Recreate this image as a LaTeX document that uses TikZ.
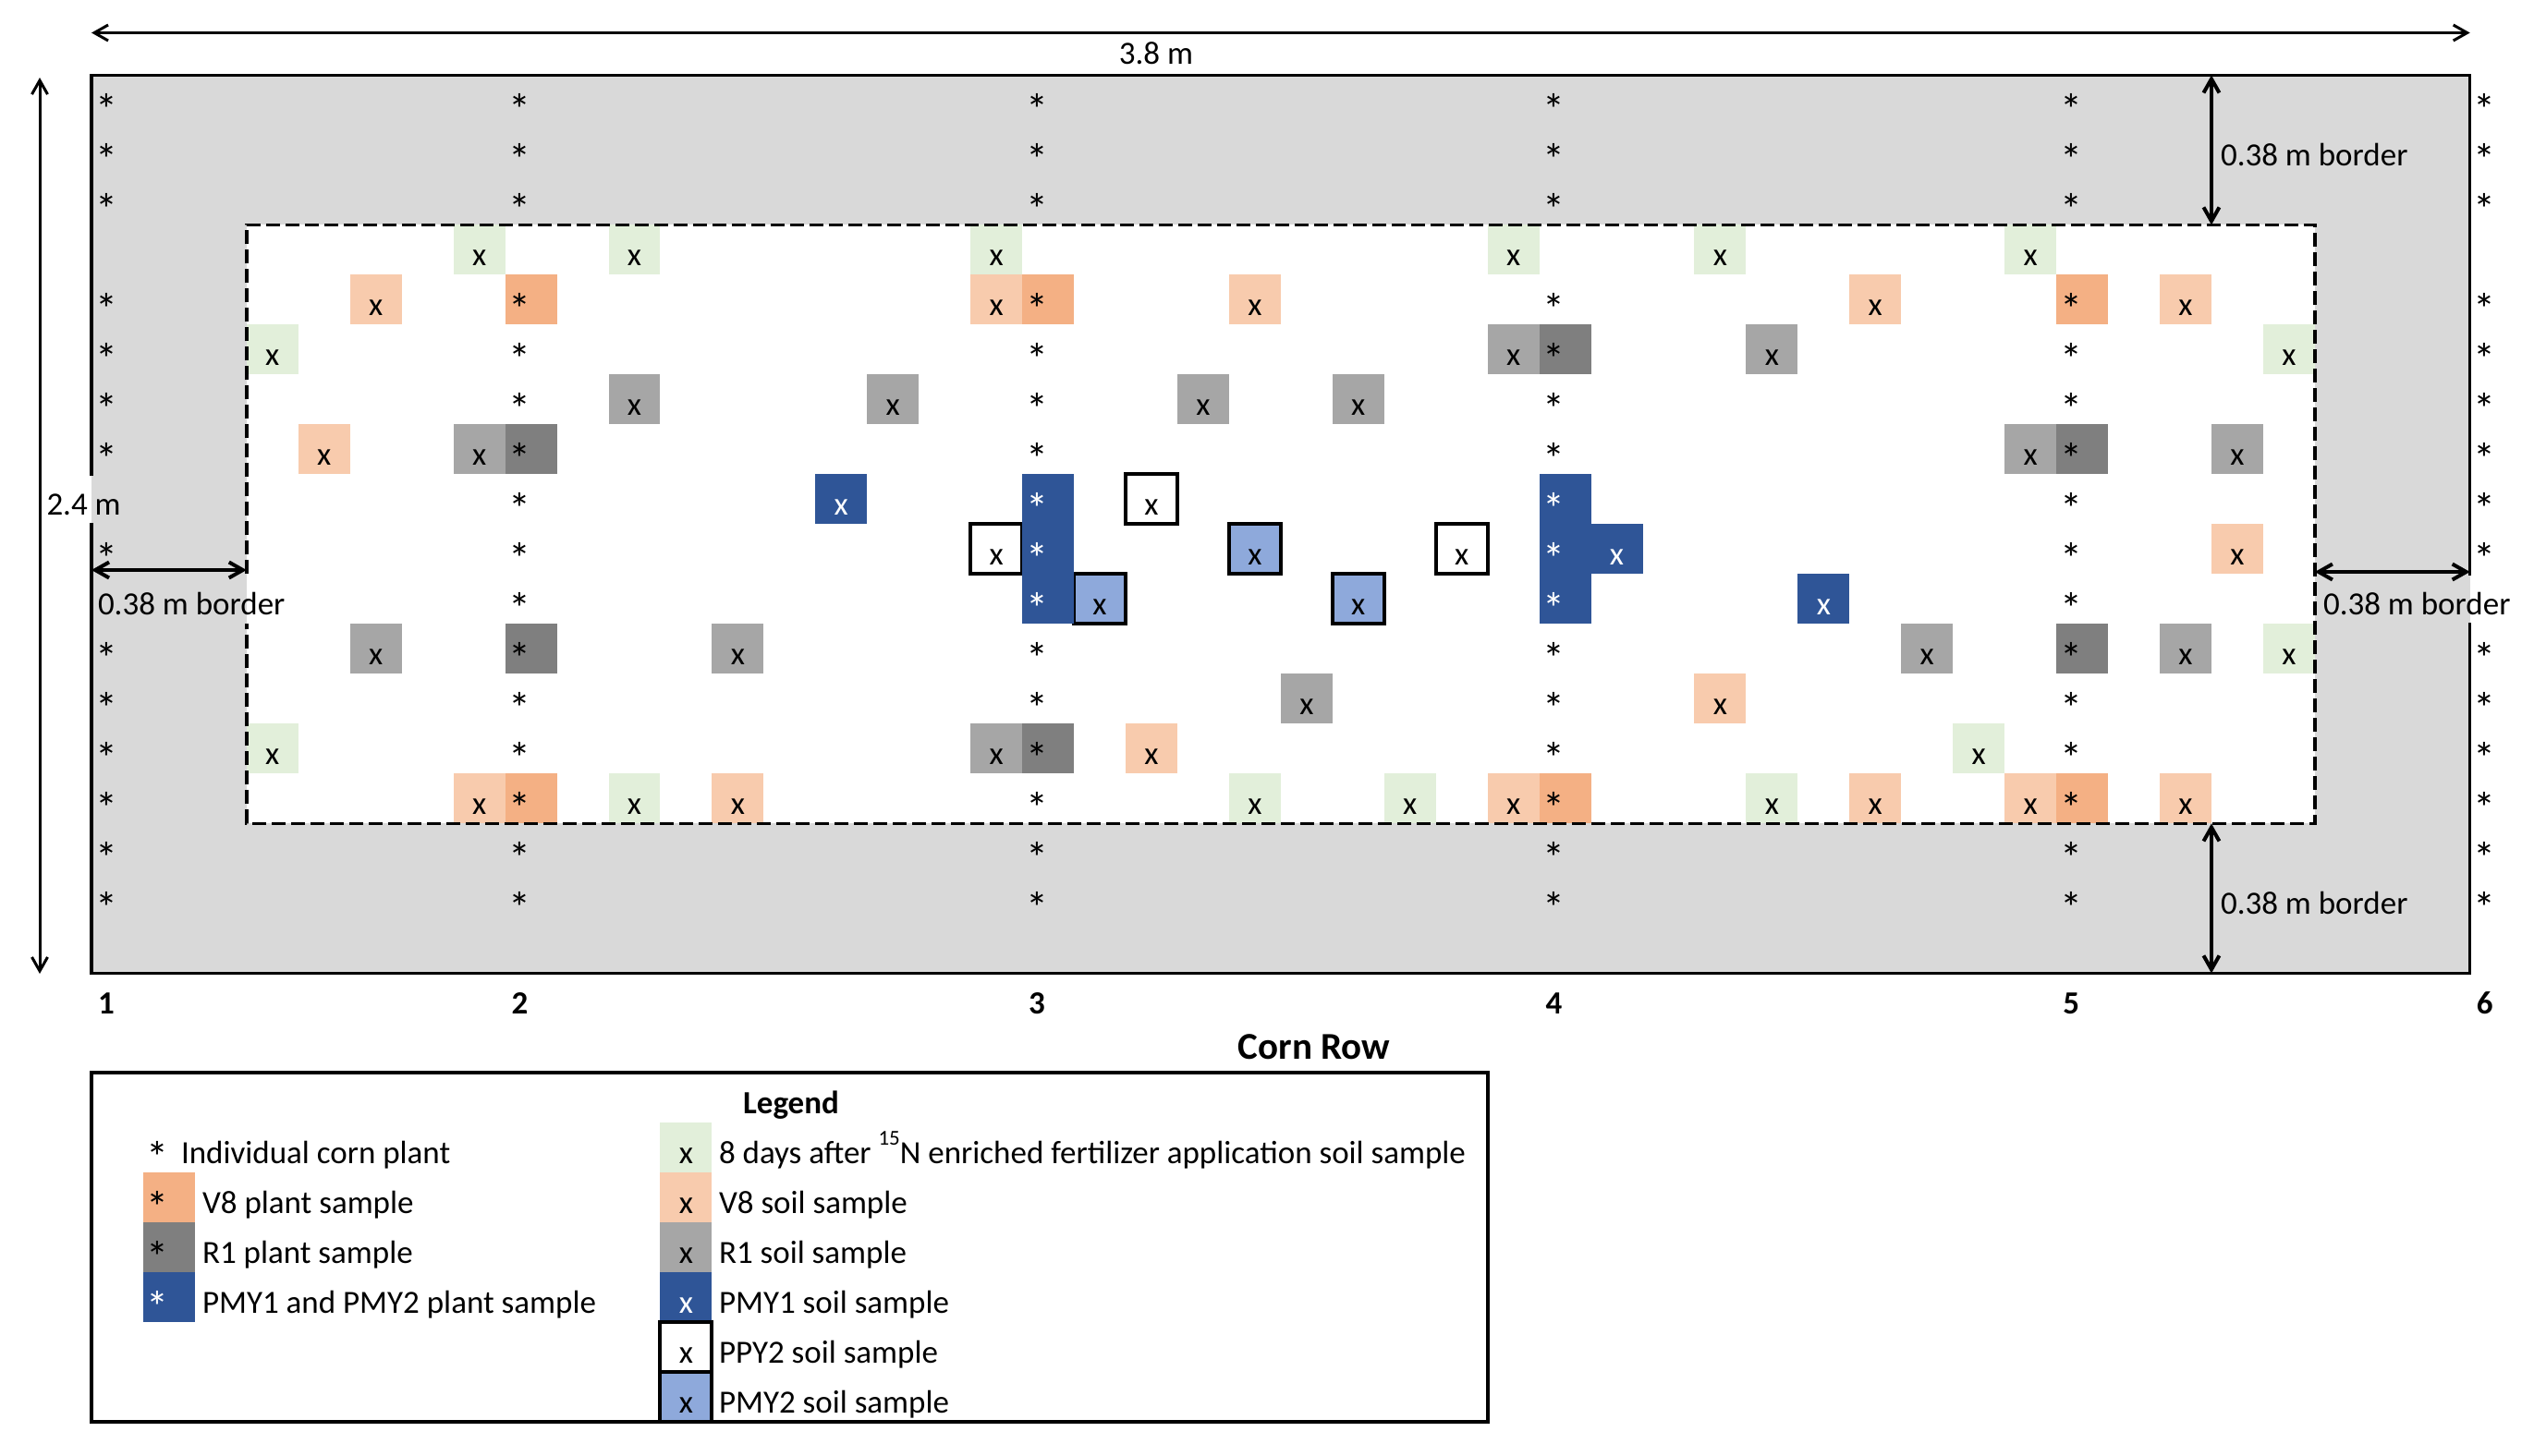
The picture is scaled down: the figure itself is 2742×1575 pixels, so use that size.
\documentclass[tikz,border=0pt]{standalone}
\usepackage{fontspec}
\setmainfont{Carlito}
\usetikzlibrary{arrows.meta}
\definecolor{bordergray}{HTML}{D9D9D9}
\definecolor{cgreen}{HTML}{E2EFDA}
\definecolor{corangel}{HTML}{F8CBAD}
\definecolor{corange}{HTML}{F4B084}
\definecolor{cgrayl}{HTML}{A6A6A6}
\definecolor{cgrayd}{HTML}{7F7F7F}
\definecolor{cblue}{HTML}{2F5597}
\definecolor{cbluel}{HTML}{8EA9DB}
\newcommand\Cx[1]{99+55.95*(#1)}
\newcommand\Ry[1]{81.4+54*(#1)}
\newcommand\fillcell[3]{\fill[#1] ({\Cx{#2}},{\Ry{#3}}) rectangle ({\Cx{#2+1}},{\Ry{#3+1}});}
\newcommand\boxcell[3]{\filldraw[boxline,fill=#1] ({\Cx{#2}},{\Ry{#3}}) rectangle ({\Cx{#2+1}},{\Ry{#3+1}});}
\newcommand\plotx[4]{\node[txt,anchor=base,text=#4] (#1) at ({\Cx{#2+0.5}},{\Ry{#3}+44}) {x};}
\newcommand\plots[4]{\node[startxt,anchor=base,text=#4] (#1) at ({\Cx{#2}+16},{\Ry{#3}+54}) {*};}
\begin{document}
\begin{tikzpicture}[x=1pt,y=-1pt,
  txt/.style={inner sep=0pt,outer sep=0pt,font=\fontsize{35}{42}\selectfont},
  startxt/.style={inner sep=0pt,outer sep=0pt,font=\fontsize{48}{48}\selectfont},
  btxt/.style={inner sep=0pt,outer sep=0pt,font=\fontsize{35}{42}\selectfont\bfseries},
  dimarrow/.style={{Straight Barb[length=15pt,width=17pt]}-{Straight Barb[length=15pt,width=17pt]},line width=3pt},
  thickarrow/.style={dimarrow,line width=4pt},
  dashline/.style={line width=3.5pt,dash pattern=on 15pt off 6pt},
  outline/.style={line width=3.5pt,line cap=rect,line join=miter},
  boxline/.style={line width=4pt,draw=black}
]
\useasboundingbox (0,0) rectangle (2742,1575);
% field background
\fill[bordergray] ({\Cx{0}},{\Ry{0}}) rectangle ({\Cx{46}},{\Ry{18}});
\fill[white] ({\Cx{3}},{\Ry{3}}) rectangle ({\Cx{43}},{\Ry{15}});
% 8 days soil samples
\foreach \c/\r in {7/3,10/3,17/3,27/3,31/3,37/3,3/5,42/5,42/11,3/13,36/13,10/14,22/14,25/14,32/14}
  {\fillcell{cgreen}{\c}{\r}\plotx{xg-\c-\r}{\c}{\r}{black}}
% V8 soil samples
\foreach \c/\r in {5/4,17/4,22/4,34/4,40/4,4/7,41/9,31/12,20/13,7/14,12/14,27/14,34/14,37/14,40/14}
  {\fillcell{corangel}{\c}{\r}\plotx{xo-\c-\r}{\c}{\r}{black}}
% R1 soil samples
\foreach \c/\r in {27/5,32/5,10/6,15/6,21/6,24/6,7/7,37/7,41/7,5/11,12/11,35/11,40/11,23/12,17/13}
  {\fillcell{cgrayl}{\c}{\r}\plotx{xr-\c-\r}{\c}{\r}{black}}
% PMY1 soil samples
\foreach \c/\r in {14/8,29/9,33/10}
  {\fillcell{cblue}{\c}{\r}\plotx{xb-\c-\r}{\c}{\r}{white}}
% PPY2 soil samples
\foreach \c/\r in {20/8,17/9,26/9}
  {\boxcell{white}{\c}{\r}\plotx{xw-\c-\r}{\c}{\r}{black}}
% PMY2 soil samples
\foreach \c/\r in {22/9,19/10,24/10}
  {\boxcell{cbluel}{\c}{\r}\plotx{xl-\c-\r}{\c}{\r}{black}}
% plant sample cells
\foreach \c/\r in {8/4,18/4,38/4,8/14,28/14,38/14} {\fillcell{corange}{\c}{\r}}
\foreach \c/\r in {28/5,8/7,38/7,8/11,38/11,18/13} {\fillcell{cgrayd}{\c}{\r}}
\foreach \c/\r in {18/8,18/9,18/10,28/8,28/9,28/10} {\fillcell{cblue}{\c}{\r}}
% corn plants
\foreach \r in {0,1,2,4,5,6,7,9,11,12,13,14,15,16} {\plots{sa-\r}{0}{\r}{black}}
\foreach \c in {8,38} {\foreach \r in {0,1,2,4,5,6,7,8,9,10,11,12,13,14,15,16} {\plots{s-\c-\r}{\c}{\r}{black}}}
\foreach \c in {18,28} {\foreach \r in {0,1,2,4,5,6,7,11,12,13,14,15,16} {\plots{s-\c-\r}{\c}{\r}{black}}
  \foreach \r in {8,9,10} {\plots{sw-\c-\r}{\c}{\r}{white}}}
\foreach \r in {0,1,2,4,5,6,7,8,9,11,12,13,14,15,16} {\plots{sf-\r}{46}{\r}{black}}
% sampling area (dashed) and field outline
\draw[dashline] ({\Cx{3}},{\Ry{10}}) -- ({\Cx{3}},{\Ry{3}}) -- ({\Cx{43}},{\Ry{3}}) -- ({\Cx{43}},{\Ry{15}}) -- ({\Cx{3}},{\Ry{15}}) -- ({\Cx{3}},{\Ry{11}});
\draw[outline] ({\Cx{0}},{\Ry{8}}) -- ({\Cx{0}},{\Ry{0}}) -- ({\Cx{46}},{\Ry{0}}) -- ({\Cx{46}},{\Ry{10}});
\draw[outline] ({\Cx{46}},{\Ry{11}}) -- ({\Cx{46}},{\Ry{18}}) -- ({\Cx{0}},{\Ry{18}}) -- ({\Cx{0}},{\Ry{9}});
% dimension coordinates
\coordinate (wl) at ({\Cx{0}},35.5);
\coordinate (wr) at ({\Cx{46}},35.5);
\coordinate (ht) at (43,84);
\coordinate (hb) at (43,1054);
\coordinate (bt1) at ({\Cx{41}},{\Ry{0}});
\coordinate (bt2) at ({\Cx{41}},{\Ry{3}});
\coordinate (bb1) at ({\Cx{41}},{\Ry{15}});
\coordinate (bb2) at ({\Cx{41}},{\Ry{18}});
\coordinate (bl1) at ({\Cx{0}},617);
\coordinate (bl2) at ({\Cx{3}},617);
\coordinate (br1) at ({\Cx{43}},619);
\coordinate (br2) at ({\Cx{46}},619);
\draw[dimarrow] (wl) -- (wr);
\draw[dimarrow] (ht) -- (hb);
\draw[thickarrow] (bt1) -- (bt2);
\draw[thickarrow] (bb1) -- (bb2);
\draw[thickarrow] (bl1) -- (bl2);
\draw[thickarrow] (br1) -- (br2);
% dimension labels
\node[txt,anchor=base] (w) at (1251,69) {3.8 m};
\node[txt,anchor=base west] (h) at (50.5,{\Ry{8}+44}) {2.4 m};
\node[txt,anchor=base west] (btop) at (2403,{\Ry{1}+44}) {0.38 m border};
\node[txt,anchor=base west] (bbot) at (2403,{\Ry{16}+44}) {0.38 m border};
\node[txt,anchor=base west] (bleft) at (106,{\Ry{10}+44}) {0.38 m border};
\node[txt,anchor=base west] (bright) at (2514,{\Ry{10}+44}) {0.38 m border};
% corn row numbers
\foreach \c/\n in {0/1,8/2,18/3,28/4,38/5,46/6}
  {\node[btxt,anchor=base] (row\n) at ({\Cx{\c}+16},{\Ry{18}+44}) {\n};}
\node[inner sep=0pt,font=\fontsize{41}{48}\selectfont\bfseries,anchor=base] (cornrow) at (1422,1146) {Corn Row};
% legend
\draw[line width=4pt] ({\Cx{0}},{\Ry{20}}) rectangle ({\Cx{27}},{\Ry{27}});
\node[btxt,anchor=base] (legtitle) at (856,{\Ry{20}+44}) {Legend};
\plots{lg-s0}{1}{21}{black}
\node[txt,anchor=base west] (lg-t0) at (196,{\Ry{21}+44}) {Individual corn plant};
\fillcell{corange}{1}{22}\plots{lg-s1}{1}{22}{black}
\node[txt,anchor=base west] (lg-t1) at (219,{\Ry{22}+44}) {V8 plant sample};
\fillcell{cgrayd}{1}{23}\plots{lg-s2}{1}{23}{black}
\node[txt,anchor=base west] (lg-t2) at (219,{\Ry{23}+44}) {R1 plant sample};
\fillcell{cblue}{1}{24}\plots{lg-s3}{1}{24}{white}
\node[txt,anchor=base west] (lg-t3) at (219,{\Ry{24}+44}) {PMY1 and PMY2 plant sample};
\fillcell{cgreen}{11}{21}\plotx{lg-x0}{11}{21}{black}
\node[txt,anchor=base west] (lg-u0) at (778,{\Ry{21}+44}) {8 days after {\fontsize{23}{23}\selectfont\raisebox{20pt}{15}}N enriched fertilizer application soil sample};
\fillcell{corangel}{11}{22}\plotx{lg-x1}{11}{22}{black}
\node[txt,anchor=base west] (lg-u1) at (778,{\Ry{22}+44}) {V8 soil sample};
\fillcell{cgrayl}{11}{23}\plotx{lg-x2}{11}{23}{black}
\node[txt,anchor=base west] (lg-u2) at (778,{\Ry{23}+44}) {R1 soil sample};
\fillcell{cblue}{11}{24}\plotx{lg-x3}{11}{24}{white}
\node[txt,anchor=base west] (lg-u3) at (778,{\Ry{24}+44}) {PMY1 soil sample};
\boxcell{white}{11}{25}\plotx{lg-x4}{11}{25}{black}
\node[txt,anchor=base west] (lg-u4) at (778,{\Ry{25}+44}) {PPY2 soil sample};
\boxcell{cbluel}{11}{26}\plotx{lg-x5}{11}{26}{black}
\node[txt,anchor=base west] (lg-u5) at (778,{\Ry{26}+44}) {PMY2 soil sample};
\end{tikzpicture}
\end{document}
